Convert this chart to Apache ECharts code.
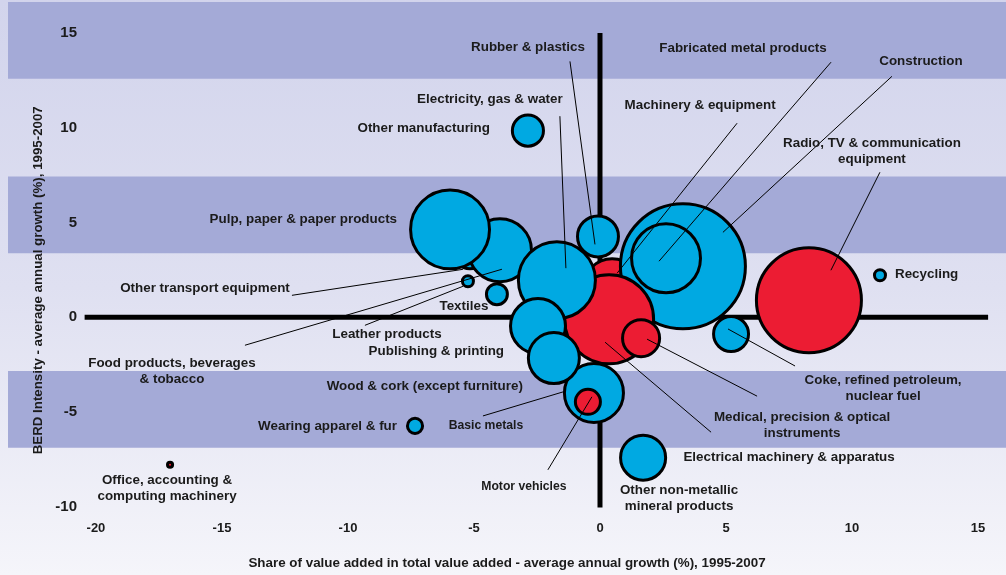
<!DOCTYPE html>
<html><head><meta charset="utf-8">
<script src="https://cdn.jsdelivr.net/npm/echarts@6/dist/echarts.min.js"></script>
<style>
html,body{margin:0;padding:0;}
#c{width:1006px;height:575px;background:linear-gradient(to bottom,#d2d4ec 0%,#dfe0f1 50%,#f5f5fa 100%);}
</style>
</head><body><div id="c"></div>
<script>
// ---------------- DATA ----------------
const names = [
  'Other transport equipment', 'Food products, beverages & tobacco', 'Pulp, paper & paper products',
  'Leather products', 'Textiles', 'Other manufacturing', 'Machinery & equipment', 'Construction',
  'Fabricated metal products', 'Electrical machinery & apparatus', 'Electricity, gas & water',
  'Rubber & plastics', 'Publishing & printing', 'Basic metals', 'Wood & cork (except furniture)',
  'Motor vehicles', 'Medical, precision & optical instruments', 'Coke, refined petroleum, nuclear fuel',
  'Radio, TV & communication equipment', 'Recycling', 'Other non-metallic mineral products',
  'Wearing apparel & fur', 'Office, accounting & computing machinery'
];
// Share of value added - average annual growth (%)
const vaGrowth = [-5.16, -3.97, -5.95, -5.24, -4.09, -2.86, 0.48, 3.29, 2.62, 0.36, -1.71,
  -0.08, -2.46, -0.24, -1.83, -0.48, 1.63, 5.20, 8.29, 11.11, 1.71, -7.34, -17.06];
// BERD intensity - average annual growth (%)
const berdGrowth = [3.42, 3.53, 4.63, 1.89, 1.21, 9.84, 1.58, 2.68, 3.11, -0.11, 1.95,
  4.26, -0.47, -4.00, -2.16, -4.47, -1.11, -0.89, 0.89, 2.21, -7.42, -5.74, -7.79];
// bubble size (relative weight)
const bubbleSize = [7.9, 26.6, 41.0, 1.2, 3.5, 7.1, 22.0, 100, 31.6, 51.7, 39.1,
  11.8, 20.5, 23.5, 17.8, 4.8, 9.8, 8.8, 71.2, 1.2, 14.1, 2.0, 0.4];
// sector group (high = red bubbles)
const sectorGroup = ['other','other','other','other','other','other','high','other','other','high','other',
  'other','other','other','other','high','high','other','high','other','other','other','high'];

const xTicks = [-20, -15, -10, -5, 0, 5, 10, 15];
const yTicks = [-10, -5, 0, 5, 10, 15];

// ---------------- LAYOUT / STYLE ----------------
const X_MIN = -23.49, X_MAX = 16.11, Y_MIN = -12.21, Y_MAX = 16.63;
const bandRanges = [[12.58, 16.63], [3.37, 7.42], [-6.89, -2.84]];
const R_SCALE = 6.4, BORDER = 3;
const BLUE = '#00a9e2', RED = '#ec1c33', BAND = '#a4aad7', TXT = '#1b1b1b';
const FONT = '"Liberation Sans", Arial, Helvetica, sans-serif';

// label offsets in px relative to bubble centre; line = [x1,y1,x2,y2] offsets
const labelLayout = {
  'Other transport equipment': {dx:-265, dy:36, line:[-178,43,-7,17]},
  'Food products, beverages & tobacco': {dx:-328, dy:121, wrapBefore:'& tobacco', line:[-255,95,2,19]},
  'Pulp, paper & paper products': {dx:-53, dy:-10, align:'right'},
  'Leather products': {dx:-81, dy:53, line:[-103,44,-5,5]},
  'Textiles': {dx:-33, dy:12},
  'Other manufacturing': {dx:-38, dy:-2, align:'right'},
  'Machinery & equipment': {dx:88, dy:-182, line:[125,-164,5,-14]},
  'Construction': {dx:238, dy:-205, line:[209,-190,40,-34]},
  'Fabricated metal products': {dx:77, dy:-210, line:[165,-196,-7,3]},
  'Electrical machinery & apparatus': {dx:180, dy:138, line:[102,113,-4,23]},
  'Electricity, gas & water': {dx:-67, dy:-181, line:[3,-164,9,-12]},
  'Rubber & plastics': {dx:-70, dy:-189, line:[-28,-175,-3,8]},
  'Publishing & printing': {dx:-34, dy:25, align:'right'},
  'Basic metals': {dx:-108, dy:33, fs:12.2, line:[-111,23,-31,-1]},
  'Wood & cork (except furniture)': {dx:-31, dy:28, align:'right'},
  'Motor vehicles': {dx:-64, dy:85, fs:12.2, line:[-40,68,4,-5]},
  'Medical, precision & optical instruments': {dx:161, dy:87, wrapBefore:'instruments', line:[116,58,6,1]},
  'Coke, refined petroleum, nuclear fuel': {dx:152, dy:54, wrapBefore:'nuclear fuel', line:[64,32,-3,-5]},
  'Radio, TV & communication equipment': {dx:63, dy:-149, wrapBefore:'equipment', line:[71,-128,22,-30]},
  'Recycling': {dx:15, dy:-1, align:'left'},
  'Other non-metallic mineral products': {dx:36, dy:41, wrapBefore:'mineral products'},
  'Wearing apparel & fur': {dx:-18, dy:0, align:'right'},
  'Office, accounting & computing machinery': {dx:-3, dy:24, wrapBefore:'computing machinery'}
};

const bubbleData = names.map((n, i) => [vaGrowth[i], berdGrowth[i], bubbleSize[i], sectorGroup[i]]);
const labelData = names.map((n, i) => [vaGrowth[i], berdGrowth[i]]);

function renderLabel(params, api) {
  const name = names[params.dataIndex];
  const L = labelLayout[name];
  const c = api.coord([api.value(0), api.value(1)]);
  let text = name;
  if (L.wrapBefore) {
    const k = name.lastIndexOf(L.wrapBefore);
    text = name.slice(0, k).trim() + '\n' + name.slice(k);
  }
  const children = [];
  if (L.line) {
    children.push({type:'line', shape:{x1:c[0]+L.line[0], y1:c[1]+L.line[1], x2:c[0]+L.line[2], y2:c[1]+L.line[3]},
      style:{stroke:'#000', lineWidth:1}});
  }
  children.push({type:'text', x:c[0]+L.dx, y:c[1]+L.dy,
    style:{text:text, align:L.align || 'center', verticalAlign:'middle',
      font:'bold ' + (L.fs || 13.4) + 'px ' + FONT, fill:TXT, lineHeight:16}});
  return {type:'group', children:children};
}

const chart = echarts.init(document.getElementById('c'), null, {renderer:'canvas'});
chart.setOption({
  animation:false,
  backgroundColor:'transparent',
  grid:{left:8, right:0, top:2, bottom:25},
  xAxis:{
    type:'value', min:X_MIN, max:X_MAX, z:10,
    axisLine:{show:false}, axisTick:{show:false}, splitLine:{show:false},
    axisLabel:{inside:true, customValues:xTicks, margin:20, verticalAlign:'middle',
      fontWeight:'bold', fontSize:13, color:TXT, fontFamily:FONT},
    name:'Share of value added in total value added - average annual growth (%), 1995-2007',
    nameLocation:'middle', nameGap:15,
    nameTextStyle:{fontWeight:'bold', fontSize:13.4, color:TXT, fontFamily:FONT, verticalAlign:'middle'}
  },
  yAxis:{
    type:'value', min:Y_MIN, max:Y_MAX, z:10,
    axisLine:{show:false}, axisTick:{show:false}, splitLine:{show:false},
    axisLabel:{inside:true, customValues:yTicks, margin:69, align:'right',
      fontWeight:'bold', fontSize:15, color:TXT, fontFamily:FONT},
    name:'BERD Intensity - average annual growth (%), 1995-2007',
    nameLocation:'middle', nameGap:-38,
    nameTextStyle:{fontWeight:'bold', fontSize:13.3, color:TXT, fontFamily:FONT, verticalAlign:'middle', padding:[0,10,0,0]}
  },
  series:[
    {
      type:'line', z:2, silent:true, symbol:'none',
      data:[[xTicks[0]-0.45, 0], [xTicks[xTicks.length-1]+0.4, 0]],
      lineStyle:{color:'#000', width:5, cap:'butt'},
      markArea:{silent:true, z:0, itemStyle:{color:BAND}, data:bandRanges.map(b => [{yAxis:b[0]}, {yAxis:b[1]}])}
    },
    {
      type:'line', z:2, silent:true, symbol:'none',
      data:[[0, yTicks[0]-0.05], [0, yTicks[yTicks.length-1]]],
      lineStyle:{color:'#000', width:5, cap:'butt'}
    },
    {
      type:'scatter', z:3, silent:true,
      data:bubbleData,
      symbolSize:v => Math.max(2, 2*R_SCALE*Math.sqrt(v[2]) - BORDER),
      itemStyle:{
        color:p => p.data[3] === 'high' ? RED : BLUE,
        borderColor:'#000', borderWidth:BORDER, opacity:1
      },
      emphasis:{disabled:true}
    },
    {
      type:'custom', z:5, silent:true, clip:false,
      data:labelData, encode:{x:0, y:1},
      renderItem:renderLabel
    }
  ]
});
</script>
</body></html>
